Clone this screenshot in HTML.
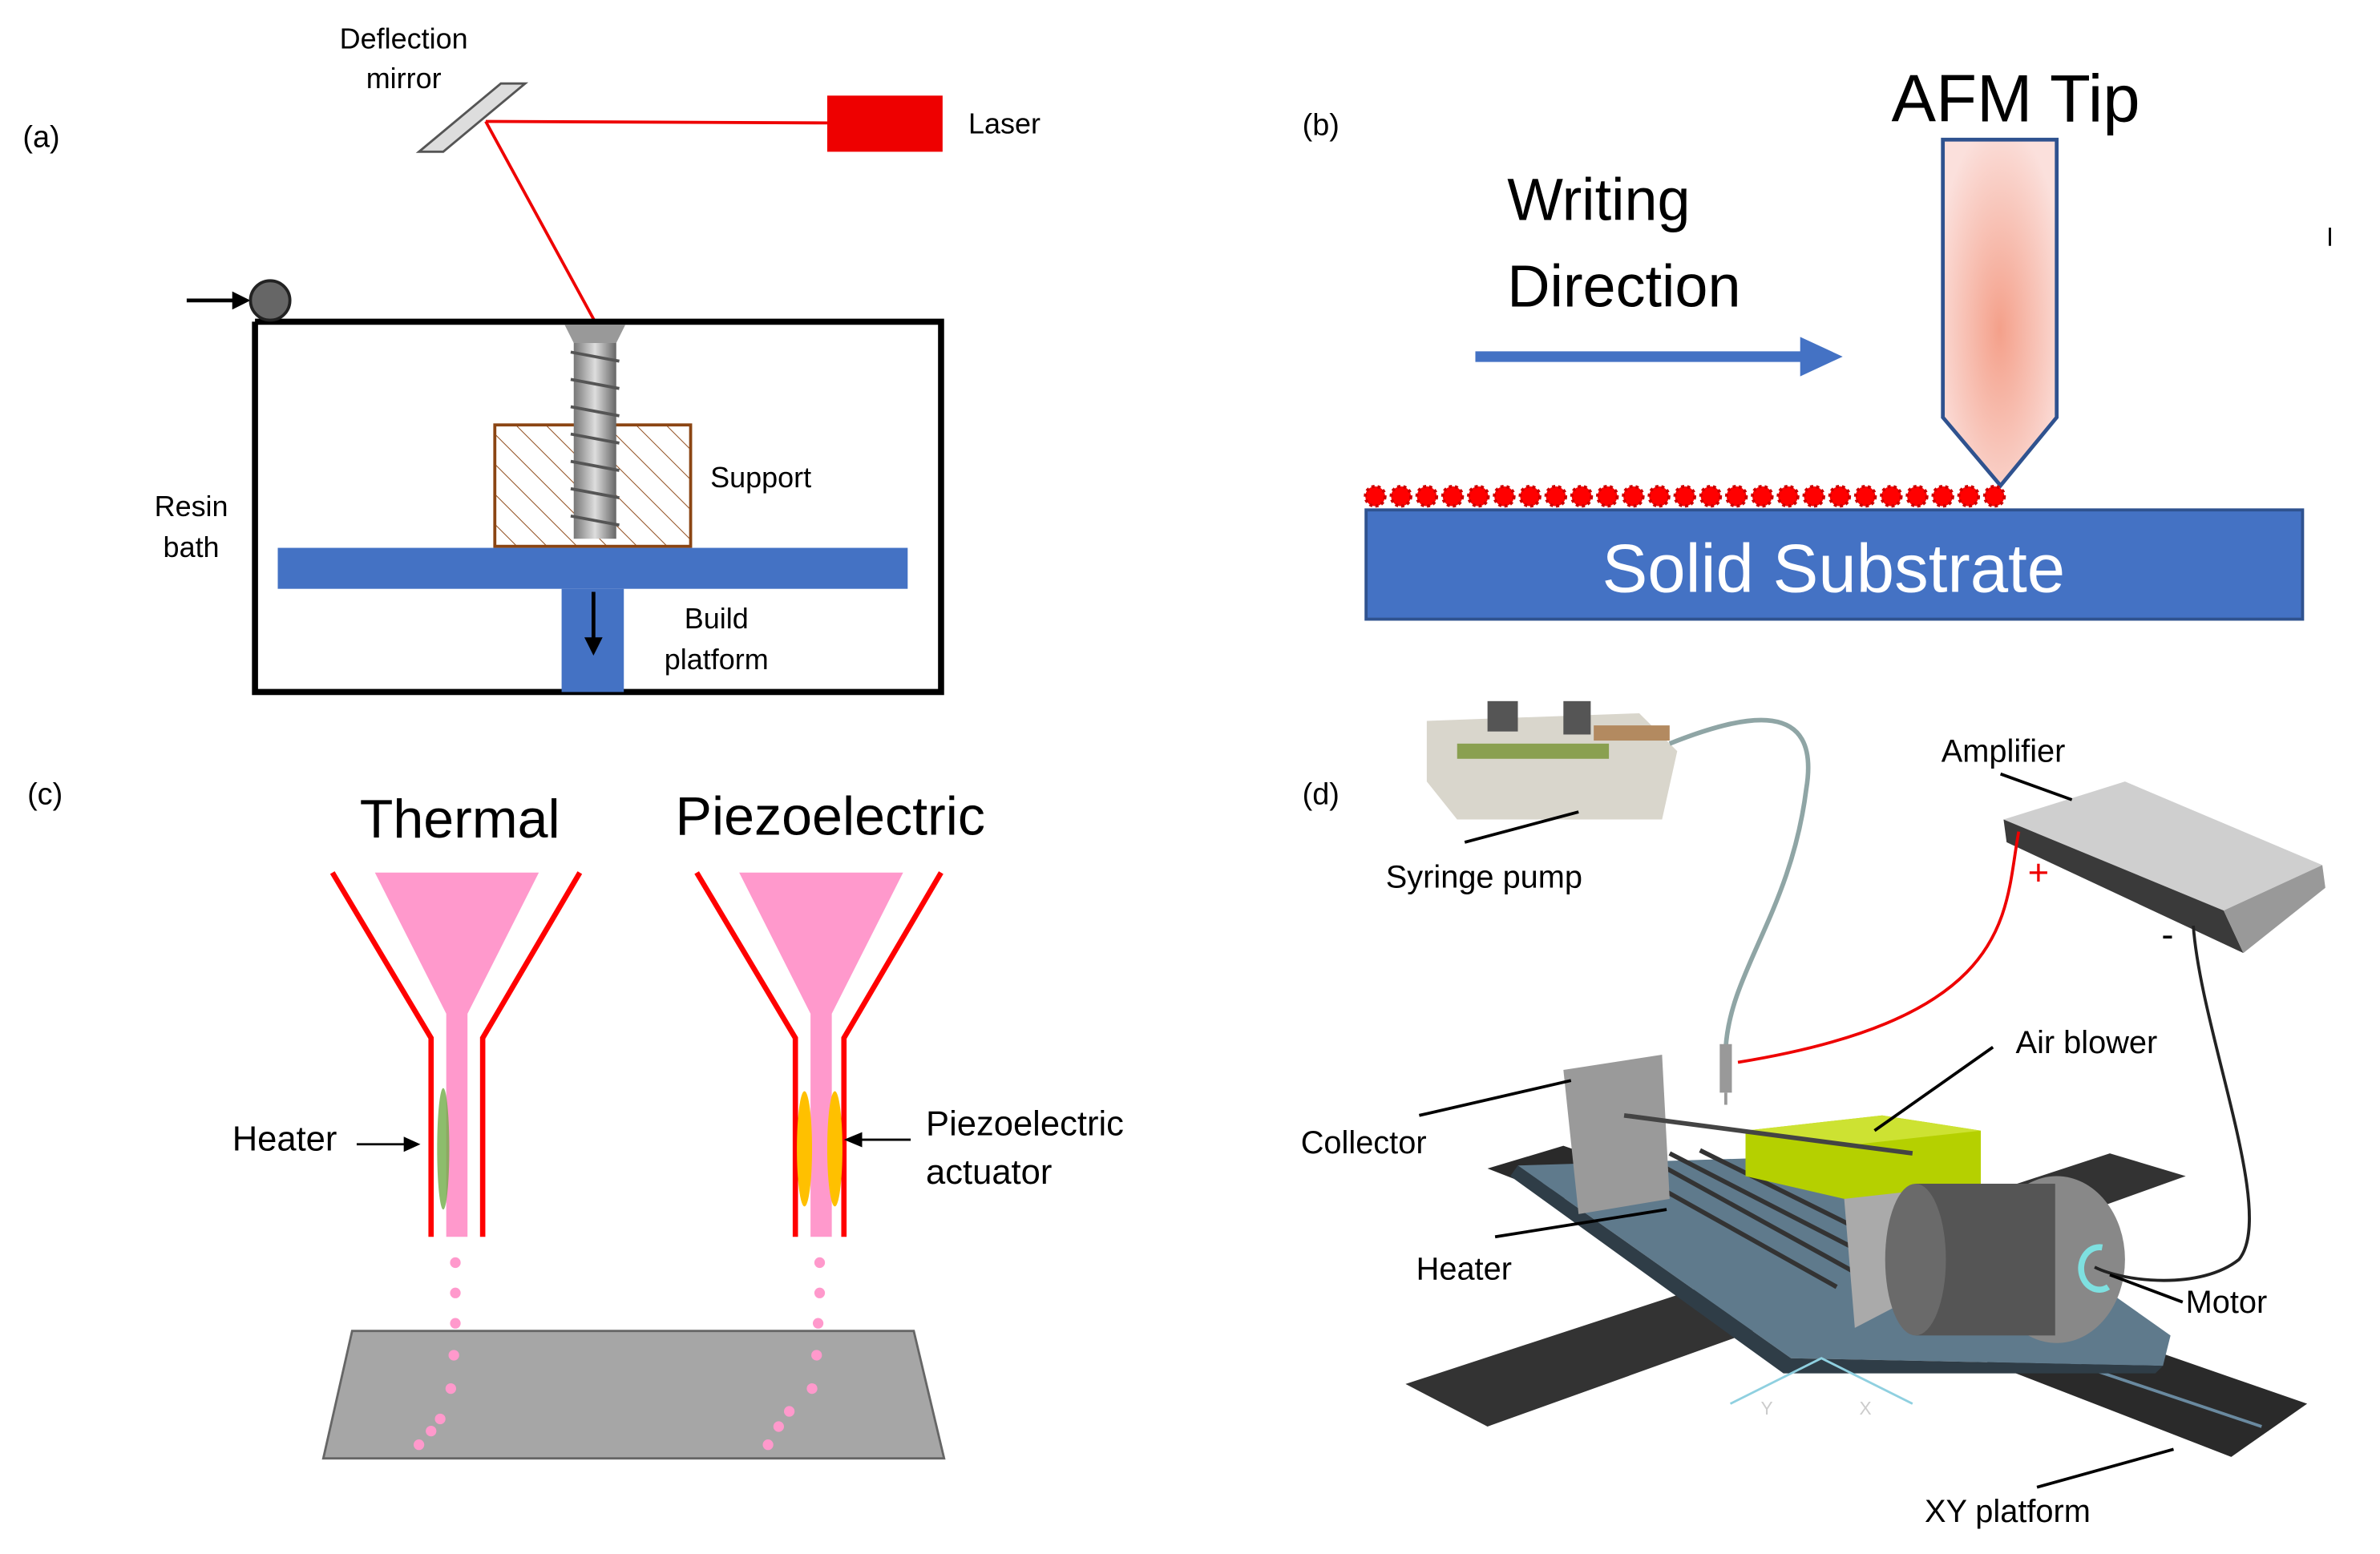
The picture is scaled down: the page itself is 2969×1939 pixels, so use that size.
<!DOCTYPE html>
<html><head><meta charset="utf-8"><style>
html,body{margin:0;padding:0;background:#fff}
svg{display:block}
text{font-family:"Liberation Sans","DejaVu Sans",sans-serif}
</style></head><body>
<svg width="2969" height="1939" viewBox="0 0 1568 1024" preserveAspectRatio="none" xmlns="http://www.w3.org/2000/svg">
<defs>
<pattern id="hatch" width="14" height="14" patternUnits="userSpaceOnUse" patternTransform="rotate(-45)">
<line x1="0" y1="0" x2="0" y2="14" stroke="#8B4513" stroke-width="1"/></pattern>
<radialGradient id="tipg" cx="0.5" cy="0.55" r="0.6"><stop offset="0" stop-color="#f4a08a"/><stop offset="1" stop-color="#fbe0dc"/></radialGradient>
<linearGradient id="screw" x1="0" x2="1"><stop offset="0" stop-color="#777"/><stop offset="0.5" stop-color="#ddd"/><stop offset="1" stop-color="#666"/></linearGradient>
</defs>
<text x="15" y="97" font-size="20">(a)</text>
<text x="266" y="32" font-size="19" text-anchor="middle">Deflection</text>
<text x="266" y="58" font-size="19" text-anchor="middle">mirror</text>
<polygon points="276,100 330,55 346,55 292,100" fill="#ddd" stroke="#555" stroke-width="1.5"/>
<rect x="545" y="63" width="76" height="37" fill="#e00"/>
<text x="638" y="88" font-size="19">Laser</text>
<line x1="320" y1="80" x2="545" y2="81" stroke="#e00" stroke-width="2"/>
<line x1="320" y1="80" x2="392" y2="212" stroke="#e00" stroke-width="2"/>
<polyline points="168,212 620,212 620,456 168,456 168,212" fill="none" stroke="#000" stroke-width="4"/>
<line x1="123" y1="198" x2="158" y2="198" stroke="#000" stroke-width="2.5"/>
<polygon points="165,198 153,192 153,204" fill="#000"/>
<circle cx="178" cy="198" r="13" fill="#666" stroke="#222" stroke-width="2"/>
<rect x="326" y="280" width="129" height="80" fill="url(#hatch)" stroke="#8B4513" stroke-width="2"/>
<rect x="378" y="215" width="28" height="140" fill="url(#screw)"/>
<g stroke="#555" stroke-width="2">
<line x1="376" y1="232" x2="408" y2="238"/><line x1="376" y1="250" x2="408" y2="256"/><line x1="376" y1="268" x2="408" y2="274"/><line x1="376" y1="286" x2="408" y2="292"/><line x1="376" y1="304" x2="408" y2="310"/><line x1="376" y1="322" x2="408" y2="328"/><line x1="376" y1="340" x2="408" y2="346"/></g>
<polygon points="372,214 412,214 406,226 378,226" fill="#999"/>
<text x="468" y="321" font-size="19">Support</text>
<text x="126" y="340" font-size="19" text-anchor="middle">Resin</text>
<text x="126" y="367" font-size="19" text-anchor="middle">bath</text>
<rect x="183" y="361" width="415" height="27" fill="#4472C4"/>
<rect x="370" y="388" width="41" height="68" fill="#4472C4"/>
<line x1="391" y1="390" x2="391" y2="422" stroke="#000" stroke-width="2.5"/>
<polygon points="391,432 385,420 397,420" fill="#000"/>
<text x="472" y="414" font-size="19" text-anchor="middle">Build</text>
<text x="472" y="441" font-size="19" text-anchor="middle">platform</text>
<text x="858" y="89" font-size="20">(b)</text>
<text x="1328" y="80" font-size="44" text-anchor="middle">AFM Tip</text>
<text x="993" y="145" font-size="39">Writing</text>
<text x="993" y="202" font-size="39">Direction</text>
<line x1="972" y1="235" x2="1190" y2="235" stroke="#4472C4" stroke-width="7"/>
<polygon points="1214,235 1186,222 1186,248" fill="#4472C4"/>
<polygon points="1280,92 1355,92 1355,275 1318,320 1280,275" fill="url(#tipg)" stroke="#2F528F" stroke-width="2.5"/>
<rect x="900" y="336" width="617" height="72" fill="#4472C4" stroke="#2F528F" stroke-width="2"/>
<text x="1208" y="390" font-size="45" fill="#fff" text-anchor="middle">Solid Substrate</text>
<g fill="#f00" stroke="#c00" stroke-width="2" stroke-dasharray="2 2">
<circle cx="906" cy="327" r="6.5"/><circle cx="923" cy="327" r="6.5"/><circle cx="940" cy="327" r="6.5"/><circle cx="957" cy="327" r="6.5"/><circle cx="974" cy="327" r="6.5"/><circle cx="991" cy="327" r="6.5"/><circle cx="1008" cy="327" r="6.5"/><circle cx="1025" cy="327" r="6.5"/><circle cx="1042" cy="327" r="6.5"/><circle cx="1059" cy="327" r="6.5"/><circle cx="1076" cy="327" r="6.5"/><circle cx="1093" cy="327" r="6.5"/><circle cx="1110" cy="327" r="6.5"/><circle cx="1127" cy="327" r="6.5"/><circle cx="1144" cy="327" r="6.5"/><circle cx="1161" cy="327" r="6.5"/><circle cx="1178" cy="327" r="6.5"/><circle cx="1195" cy="327" r="6.5"/><circle cx="1212" cy="327" r="6.5"/><circle cx="1229" cy="327" r="6.5"/><circle cx="1246" cy="327" r="6.5"/><circle cx="1263" cy="327" r="6.5"/><circle cx="1280" cy="327" r="6.5"/><circle cx="1297" cy="327" r="6.5"/><circle cx="1314" cy="327" r="6.5"/></g>
<line x1="1535" y1="150" x2="1535" y2="162" stroke="#000" stroke-width="1.5"/>
<text x="18" y="530" font-size="20">(c)</text>
<text x="303" y="552" font-size="36" text-anchor="middle">Thermal</text>
<text x="547" y="550" font-size="36" text-anchor="middle">Piezoelectric</text>
<polygon points="232,877 602,877 622,961 213,961" fill="#a6a6a6" stroke="#666" stroke-width="1.5"/>
<polygon points="247,575 355,575 308,668 308,815 294,815 294,668" fill="#ff99cc"/>
<polyline points="219,575 284,684 284,815" fill="none" stroke="#f00" stroke-width="3.5"/>
<polyline points="382,575 318,684 318,815" fill="none" stroke="#f00" stroke-width="3.5"/>
<ellipse cx="292" cy="757" rx="4" ry="40" fill="#70AD47" opacity="0.8"/>
<polygon points="487,575 595,575 548,668 548,815 534,815 534,668" fill="#ff99cc"/>
<polyline points="459,575 524,684 524,815" fill="none" stroke="#f00" stroke-width="3.5"/>
<polyline points="620,575 556,684 556,815" fill="none" stroke="#f00" stroke-width="3.5"/>
<ellipse cx="530" cy="757" rx="5" ry="38" fill="#FFC000"/>
<ellipse cx="550" cy="757" rx="5" ry="38" fill="#FFC000"/>
<g fill="#ff99cc">
<circle cx="300" cy="832" r="3.5"/><circle cx="300" cy="852" r="3.5"/><circle cx="300" cy="872" r="3.5"/><circle cx="299" cy="893" r="3.5"/><circle cx="297" cy="915" r="3.5"/><circle cx="290" cy="935" r="3.5"/><circle cx="284" cy="943" r="3.5"/><circle cx="276" cy="952" r="3.5"/>
<circle cx="540" cy="832" r="3.5"/><circle cx="540" cy="852" r="3.5"/><circle cx="539" cy="872" r="3.5"/><circle cx="538" cy="893" r="3.5"/><circle cx="535" cy="915" r="3.5"/><circle cx="520" cy="930" r="3.5"/><circle cx="513" cy="940" r="3.5"/><circle cx="506" cy="952" r="3.5"/></g>
<text x="153" y="758" font-size="23">Heater</text>
<line x1="235" y1="754" x2="268" y2="754" stroke="#000" stroke-width="1.5"/>
<polygon points="277,754 266,749 266,759" fill="#000"/>
<text x="610" y="748" font-size="23">Piezoelectric</text>
<text x="610" y="780" font-size="23">actuator</text>
<line x1="564" y1="751" x2="600" y2="751" stroke="#000" stroke-width="1.5"/>
<polygon points="556,751 568,746 568,756" fill="#000"/>
<text x="858" y="530" font-size="20">(d)</text>
<polygon points="926,912 1390,760 1440,775 980,940" fill="#333"/>
<polygon points="980,770 1030,755 1520,925 1470,960" fill="#2a2a2a"/>
<line x1="1000" y1="775" x2="1490" y2="940" stroke="#6a8aa0" stroke-width="2"/>
<polygon points="1000,768 1260,760 1430,880 1425,900 1180,895" fill="#5f7a8c"/>
<polygon points="1000,768 1180,895 1425,900 1420,905 1175,905 995,775" fill="#2f3d47"/>
<g stroke="#333" stroke-width="3"><line x1="1080" y1="760" x2="1225" y2="840"/><line x1="1100" y1="760" x2="1240" y2="832"/><line x1="1060" y1="764" x2="1210" y2="848"/><line x1="1120" y1="758" x2="1255" y2="825"/></g>
<polygon points="1030,705 1095,695 1100,790 1040,800" fill="#9a9a9a"/>
<polygon points="1215,790 1265,760 1270,850 1222,875" fill="#aaa"/>
<polygon points="1150,745 1240,735 1305,745 1305,780 1215,790 1150,775" fill="#b5d000"/>
<polygon points="1150,745 1240,735 1305,745 1215,755" fill="#cde232"/>
<ellipse cx="1355" cy="830" rx="45" ry="55" fill="#888"/>
<rect x="1262" y="780" width="92" height="100" fill="#555"/>
<ellipse cx="1262" cy="830" rx="20" ry="50" fill="#6a6a6a"/>
<path d="M1385,822 a12,14 0 1 0 4,26" fill="none" stroke="#7ee0e0" stroke-width="4"/>
<line x1="1070" y1="735" x2="1260" y2="760" stroke="#444" stroke-width="3"/>
<polygon points="940,475 1080,470 1105,495 1095,540 960,540 940,515" fill="#d9d6cc"/>
<rect x="960" y="490" width="100" height="10" fill="#8aa050"/>
<rect x="980" y="462" width="20" height="20" fill="#555"/><rect x="1030" y="462" width="18" height="22" fill="#555"/>
<rect x="1050" y="478" width="50" height="10" fill="#b38a60"/>
<path d="M1100,490 C1150,470 1200,460 1190,520 C1180,600 1140,640 1137,690" fill="none" stroke="#8fa5a5" stroke-width="3"/>
<rect x="1133" y="688" width="8" height="32" fill="#999"/>
<line x1="1137" y1="720" x2="1137" y2="728" stroke="#999" stroke-width="2"/>
<polygon points="1320,540 1400,515 1530,570 1465,600" fill="#cfcfcf"/>
<polygon points="1320,540 1465,600 1478,628 1322,555" fill="#3a3a3a"/>
<polygon points="1465,600 1530,570 1532,585 1478,628" fill="#999"/>
<path d="M1330,548 C1320,600 1330,670 1145,700" fill="none" stroke="#e00" stroke-width="2"/>
<path d="M1445,610 C1450,680 1500,800 1475,830 C1450,850 1400,845 1380,835" fill="none" stroke="#222" stroke-width="2"/>
<text x="1343" y="583" font-size="24" fill="#e00" text-anchor="middle">+</text>
<text x="1428" y="624" font-size="24" text-anchor="middle">-</text>
<g font-size="21">
<text x="1279" y="502">Amplifier</text>
<line x1="1318" y1="510" x2="1365" y2="527" stroke="#000" stroke-width="2"/>
<text x="913" y="585">Syringe pump</text>
<line x1="965" y1="555" x2="1040" y2="535" stroke="#000" stroke-width="2"/>
<text x="1328" y="694">Air blower</text>
<line x1="1313" y1="690" x2="1235" y2="745" stroke="#000" stroke-width="2"/>
<text x="857" y="760">Collector</text>
<line x1="935" y1="735" x2="1035" y2="712" stroke="#000" stroke-width="2"/>
<text x="933" y="843">Heater</text>
<line x1="985" y1="815" x2="1098" y2="797" stroke="#000" stroke-width="2"/>
<text x="1440" y="865">Motor</text>
<line x1="1438" y1="858" x2="1390" y2="840" stroke="#000" stroke-width="2"/>
<text x="1268" y="1003">XY platform</text>
<line x1="1342" y1="980" x2="1432" y2="955" stroke="#000" stroke-width="2"/>
</g>
<g stroke="#8fd0e0" stroke-width="1.5" fill="none"><polyline points="1140,925 1200,895 1260,925"/></g>
<text x="1160" y="932" font-size="12" fill="#ccc">Y</text>
<text x="1225" y="932" font-size="12" fill="#ccc">X</text>
</svg>
</body></html>
